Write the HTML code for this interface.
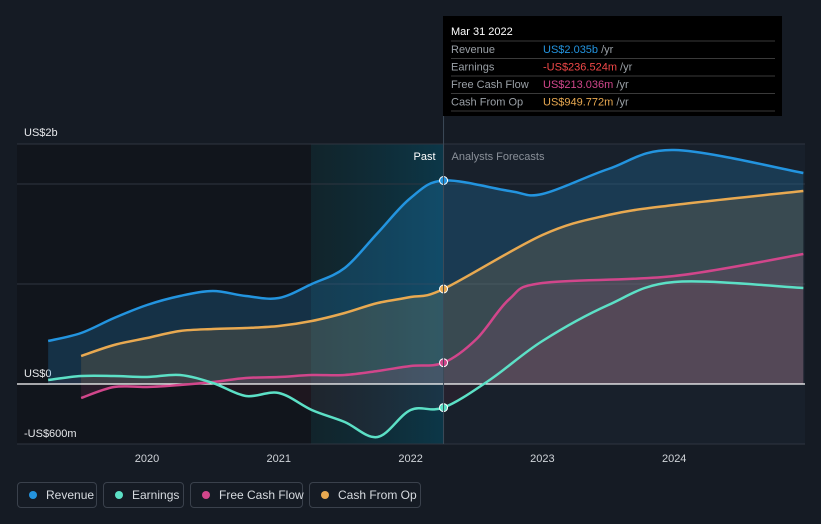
<!DOCTYPE html>
<html><head><meta charset="utf-8"><style>
body{margin:0;background:#151b24;font-family:"Liberation Sans",sans-serif;}
svg{display:block}
.leg{position:absolute;top:482px;height:26px;border:1px solid #3a414c;border-radius:4px;color:#d7dbe0;font-size:12px;line-height:24px;box-sizing:border-box;padding-left:28px;white-space:nowrap}
.leg i{position:absolute;left:11px;top:8px;width:8px;height:8px;border-radius:50%}
</style></head><body>
<div style="position:relative;width:821px;height:524px;overflow:hidden">
<svg id="c" width="821" height="524"></svg>
<div class="leg" style="left:17px;width:80px"><i style="background:#2394df"></i>Revenue</div>
<div class="leg" style="left:103px;width:81px"><i style="background:#5ce0c6"></i>Earnings</div>
<div class="leg" style="left:190px;width:113px"><i style="background:#d1468b"></i>Free Cash Flow</div>
<div class="leg" style="left:309px;width:112px"><i style="background:#e8a951"></i>Cash From Op</div>
</div>
<script>
const revT=[2019.25,2019.5,2019.75,2020,2020.25,2020.5,2020.75,2021,2021.25,2021.5,2021.75,2022,2022.25,2022.75,2023,2023.5,2024,2024.98];
const revV=[430,510,660,790,880,930,880,860,1000,1160,1510,1860,2035,1930,1900,2150,2340,2110];
const earnT=[2019.25,2019.5,2019.75,2020,2020.25,2020.5,2020.75,2021,2021.25,2021.5,2021.75,2022,2022.25,2022.6,2023,2023.5,2024,2024.98];
const earnV=[40,80,80,70,90,10,-120,-90,-260,-380,-530,-260,-236,40,430,790,1020,960];
const fcfT=[2019.5,2019.75,2020,2020.25,2020.5,2020.75,2021,2021.25,2021.5,2021.75,2022,2022.25,2022.5,2022.75,2023,2024,2024.98];
const fcfV=[-140,-30,-30,-10,20,60,70,90,90,130,180,213,450,850,1010,1080,1300];
const cfoT=[2019.5,2019.75,2020,2020.25,2020.5,2020.75,2021,2021.25,2021.5,2021.75,2022,2022.25,2023,2023.5,2024,2024.98];
const cfoV=[280,390,460,530,550,560,580,630,710,810,870,950,1490,1690,1790,1930];
const yTicks=[2000,0,-600];
const yLabels=["US$2b","US$0","-US$600m"];
const xTicks=[2020,2021,2022,2023,2024];
const NOW=2022.25;
const X=t=>147+(t-2020)*131.8, Y=v=>384-v*0.1;
const svg=document.getElementById('c'),NS='http://www.w3.org/2000/svg';
function el(tag,a,parent){const e=document.createElementNS(NS,tag);for(const k in a)e.setAttribute(k,a[k]);(parent||svg).appendChild(e);return e;}
function path(T,V){const p=T.map((t,i)=>[X(t),Y(V[i])]);let d='M'+p[0];for(let i=0;i<p.length-1;i++){const a=p[i-1]||p[i],b=p[i],c=p[i+1],e=p[i+2]||c;d+=' C'+(b[0]+(c[0]-a[0])/6)+','+(b[1]+(c[1]-a[1])/6)+' '+(c[0]-(e[0]-b[0])/6)+','+(c[1]-(e[1]-b[1])/6)+' '+c;}return d;}
const defs=el('defs',{});
const g=el('linearGradient',{id:'hl',x1:0,x2:1,y1:0,y2:0},defs);
el('stop',{offset:0,'stop-color':'#0f2a30','stop-opacity':0.6},g);el('stop',{offset:1,'stop-color':'#0b3a4c','stop-opacity':0.9},g);
let r=el('rect',{x:17,y:144,width:294,height:300,fill:'#11151c'});
r=el('rect',{x:311,y:144,width:X(NOW)-311,height:300,fill:'url(#hl)'});
r=el('rect',{x:X(NOW),y:144,width:805-X(NOW),height:300,fill:'#18202b'});
[144,184,284,444].forEach(y=>{const l=el('line',{x1:17,x2:805,y1:y,y2:y,stroke:'#2e3540'});});
yTicks.forEach((v,i)=>{const yy=[131,372,432][i];const t=el('text',{x:24,y:yy+5,fill:'#e6e8eb','font-size':11});t.textContent=yLabels[i];});
xTicks.forEach(v=>{const t=el('text',{x:X(v),y:462,fill:'#d0d4d9','font-size':11,'text-anchor':'middle'});t.textContent=v;});
const S=[[revT,revV,'#2394df','revenue',0.22],[cfoT,cfoV,'#e8a951','cash-from-op',0.15],[fcfT,fcfV,'#d1468b','free-cash-flow',0.12],[earnT,earnV,'#5ce0c6','earnings',0.08]];
S.forEach(([T,V,c,n,o])=>{const d=path(T,V);const a=el('path',{d:d+' L'+X(T[T.length-1])+','+Y(0)+' L'+X(T[0])+','+Y(0)+'Z',fill:n=='earnings'?'#c0394a':c,'fill-opacity':o});});
let z=el('line',{x1:17,x2:805,y1:Y(0),y2:Y(0),stroke:'#ffffff','stroke-width':1.2});
S.forEach(([T,V,c,n])=>{const l=el('path',{d:path(T,V),fill:'none',stroke:c,'stroke-width':2.5});
const i=T.indexOf(NOW);const p=el('circle',{cx:X(NOW),cy:Y(V[i]),r:4,fill:c,stroke:'#fff','stroke-width':1});});
let vl=el('line',{x1:X(NOW),x2:X(NOW),y1:16,y2:444,stroke:'#3c4a58'});
let t=el('text',{x:X(NOW)-8,y:160,fill:'#fff','font-size':11,'text-anchor':'end'});t.textContent='Past';
t=el('text',{x:X(NOW)+8,y:160,fill:'#8a9099','font-size':11});t.textContent='Analysts Forecasts';
const tip=el('g',{});
el('rect',{x:443,y:16,width:339,height:100,fill:'#000'},tip);
t=el('text',{x:451,y:35,fill:'#fff','font-size':11},tip);t.textContent='Mar 31 2022';
const rows=[['Revenue','US$2.035b','#2394df'],['Earnings','-US$236.524m','#f04848'],['Free Cash Flow','US$213.036m','#d1468b'],['Cash From Op','US$949.772m','#e8a951']];
rows.forEach((rw,i)=>{const y=53+i*17.5;el('line',{x1:451,x2:775,y1:y-12,y2:y-12,stroke:'#3a3a3a'},tip);
let a=el('text',{x:451,y:y,fill:'#9aa0a6','font-size':11},tip);a.textContent=rw[0];
a=el('text',{x:543,y:y,fill:rw[2],'font-size':11},tip);a.textContent=rw[1];const s=el('tspan',{fill:'#9aa0a6'},a);s.textContent=' /yr';});
el('line',{x1:451,x2:775,y1:111,y2:111,stroke:'#3a3a3a'},tip);
</script>
</body></html>
